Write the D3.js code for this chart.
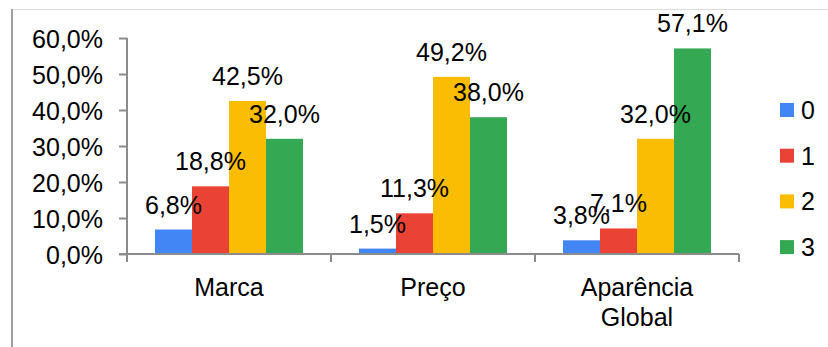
<!DOCTYPE html>
<html>
<head>
<meta charset="utf-8">
<script src="https://cdn.jsdelivr.net/npm/d3@7"></script>
<style>
  body { margin: 0; background: #fff; }
  text { font-family: "Liberation Sans", Arial, sans-serif; fill: #000; }
</style>
</head>
<body>
<div id="chart-area"></div>
<script>
// categorias e séries (percentagens)
var categorias = [["Marca"], ["Preço"], ["Aparência", "Global"]];
var series = ["0", "1", "2", "3"];
var valores0 = [6.8, 1.5, 3.8];
var valores1 = [18.8, 11.3, 7.1];
var valores2 = [42.5, 49.2, 32.0];
var valores3 = [32.0, 38.0, 57.1];
var ticksY = [0, 10, 20, 30, 40, 50, 60];
var cores = ["#4285F4", "#EA4335", "#FBBC04", "#34A853"];

var todos = [valores0, valores1, valores2, valores3];
var fonte = "25px";

var width = 828, height = 347;
var svg = d3.select("#chart-area").append("svg")
    .attr("width", width)
    .attr("height", height);

// moldura (recortada)
svg.append("line")
    .attr("x1", 11).attr("x2", width).attr("y1", 9.5).attr("y2", 9.5)
    .attr("stroke", "#dcdcdc").attr("stroke-width", 1);
svg.append("line")
    .attr("x1", 12).attr("x2", 12).attr("y1", 9).attr("y2", height)
    .attr("stroke", "#a0a0a0").attr("stroke-width", 2);

var x0 = d3.scaleBand()
    .domain(categorias.map(function(d, i) { return i; }))
    .range([127, 739]);

var x1 = d3.scaleBand()
    .domain(series)
    .range([0, x0.bandwidth()])
    .paddingOuter(0.5 * 56 / 37);

var y = d3.scaleLinear()
    .domain([0, 60])
    .range([254, 38]);

var fmt = function(v) { return d3.format(".1f")(v).replace(".", ",") + "%"; };

// barras
series.forEach(function(s, si) {
    var g = svg.append("g");
    g.selectAll("rect")
        .data(todos[si])
        .enter()
        .append("rect")
        .attr("x", function(d, i) { return x0(i) + x1(s); })
        .attr("y", function(d) { return y(d); })
        .attr("width", x1.bandwidth())
        .attr("height", function(d) { return y(0) - y(d); })
        .attr("fill", cores[si]);
});

// eixo Y
var eixoY = svg.append("g")
    .attr("transform", "translate(127,0)")
    .call(d3.axisLeft(y).tickValues(ticksY).tickSize(8).tickPadding(16)
        .tickFormat(function(d) { return fmt(d); }));
eixoY.selectAll("text").style("font-size", fonte).attr("dy", "0.36em");

// eixo X
var eixoX = svg.append("g")
    .attr("transform", "translate(0,254)");
eixoX.append("line")
    .attr("x1", 119).attr("x2", 739).attr("y1", 0).attr("y2", 0);
eixoX.selectAll("line.tick")
    .data(d3.range(categorias.length + 1))
    .enter()
    .append("line")
    .attr("class", "tick")
    .attr("x1", function(d) { return d < categorias.length ? x0(d) : x0.range()[1]; })
    .attr("x2", function(d) { return d < categorias.length ? x0(d) : x0.range()[1]; })
    .attr("y1", 0).attr("y2", 8);
eixoX.selectAll("line").attr("stroke", "#8c8c8c").attr("stroke-width", 2);
eixoY.selectAll("line, path").attr("stroke", "#8c8c8c").attr("stroke-width", 2);
eixoY.select("path.domain").attr("d", "M0,38V254");

// rótulos das categorias
categorias.forEach(function(linhas, i) {
    var t = svg.append("text")
        .attr("x", x0(i) + x0.bandwidth() / 2)
        .attr("y", 296)
        .attr("text-anchor", "middle")
        .style("font-size", fonte);
    linhas.forEach(function(l, k) {
        t.append("tspan")
            .attr("x", x0(i) + x0.bandwidth() / 2)
            .attr("dy", k === 0 ? 0 : 30)
            .text(l);
    });
});

// rótulos de valores
series.forEach(function(s, si) {
    svg.append("g").selectAll("text")
        .data(todos[si])
        .enter()
        .append("text")
        .attr("x", function(d, i) { return x0(i) + x1(s) + x1.bandwidth() / 2; })
        .attr("y", function(d) { return y(d) - 16; })
        .attr("text-anchor", "middle")
        .style("font-size", fonte)
        .text(function(d) { return fmt(d); });
});

// legenda
var legenda = svg.append("g")
    .selectAll("g")
    .data(series)
    .enter()
    .append("g")
    .attr("transform", function(d, i) { return "translate(780," + (110 + i * 45.7) + ")"; });
legenda.append("rect")
    .attr("x", 0).attr("y", -7)
    .attr("width", 14).attr("height", 14)
    .attr("fill", function(d, i) { return cores[i]; });
legenda.append("text")
    .attr("x", 21).attr("y", 0).attr("dy", "0.36em")
    .style("font-size", fonte)
    .text(function(d) { return d; });
</script>
</body>
</html>
